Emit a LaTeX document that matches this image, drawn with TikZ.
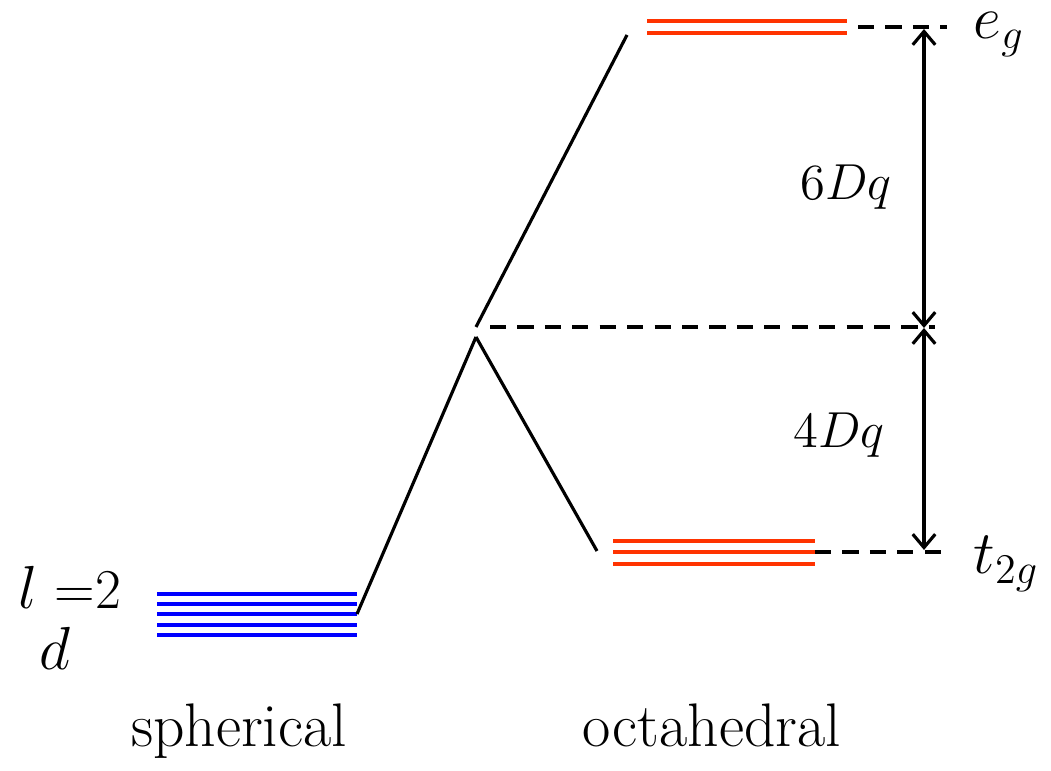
\documentclass[tikz,border=0pt]{standalone}
\usetikzlibrary{arrows.meta}

\tikzset{
  sphlevel/.style={line width=0.9pt, draw={rgb,255:red,0;green,0;blue,255}},
  octlevel/.style={line width=0.9pt, draw={rgb,255:red,255;green,51;blue,0}},
  corr/.style={line width=0.9pt},
  guide/.style={line width=1pt, dash pattern=on 4.6pt off 3.2pt},
  gap/.style={line width=0.9pt, {Straight Barb[length=3.8pt,width=6.4pt]}-{Straight Barb[length=3.8pt,width=6.4pt]}},
  lbl/.style={inner sep=0, font=\fontsize{17.5}{21}\selectfont},
  sym/.style={inner sep=0, font=\fontsize{16.5}{19}\selectfont},
}

\begin{document}
\begin{tikzpicture}[x=0.01cm, y=-0.01cm]
\useasboundingbox (0,0) rectangle (1051,771);
% spherical d levels:
\foreach \yy in {594,604,614,625,635}
  \draw[sphlevel] (157,\yy) -- (357,\yy);
\coordinate (dlev) at (357,614);
% octahedral e_g levels:
\foreach \yy in {21,33}
  \draw[octlevel] (647,\yy) -- (847,\yy);
\coordinate (eglev) at (627,35);
\coordinate (egend) at (858,27);
% octahedral t_2g levels:
\foreach \yy in {541,552,564}
  \draw[octlevel] (613,\yy) -- (815,\yy);
\coordinate (tlev) at (597,551);
\coordinate (tend) at (815,552);
% barycentre:
\coordinate (apexlo) at (476,337);
\coordinate (apexhi) at (476,327);
\coordinate (bary) at (490,327);
% correlation lines:
\draw[corr] (dlev) -- (apexlo);
\draw[corr] (apexlo) -- (tlev);
\draw[corr] (apexhi) -- (eglev);
% reference lines:
\coordinate (egdash) at (947,27);
\coordinate (barydash) at (935,327);
\coordinate (tdash) at (943,552);
\draw[guide] (egend) -- (egdash);
\draw[guide] (bary) -- (barydash);
\draw[guide] (tend) -- (tdash);
% splittings:
\coordinate (atop) at (924,29);
\coordinate (amid) at (924,328);
\coordinate (abot) at (924,550);
\draw[gap] (atop) -- (amid);
\draw[gap] (amid) -- (abot);
% labels:
\node[lbl, anchor=base, font=\fontsize{14}{17}\selectfont] (six) at (846,200) {$6Dq$};
\node[lbl, anchor=base, font=\fontsize{14}{17}\selectfont] (four) at (839,448) {$4Dq$};
\node[sym, anchor=base west] (eg) at (973,39) {$e_g$};
\node[sym, anchor=base west] (tg) at (973,574) {$t_{2g}$};
\node[lbl, anchor=base west, font=\fontsize{16}{19}\selectfont] (lval) at (18,609) {$l$ =2};
\node[lbl, anchor=base west, font=\fontsize{16}{19}\selectfont] (dname) at (39,670) {$d$};
\node[lbl, anchor=base] (sph) at (239,747) {spherical};
\node[lbl, anchor=base] (oct) at (712,747) {octahedral};
\end{tikzpicture}
\end{document}
